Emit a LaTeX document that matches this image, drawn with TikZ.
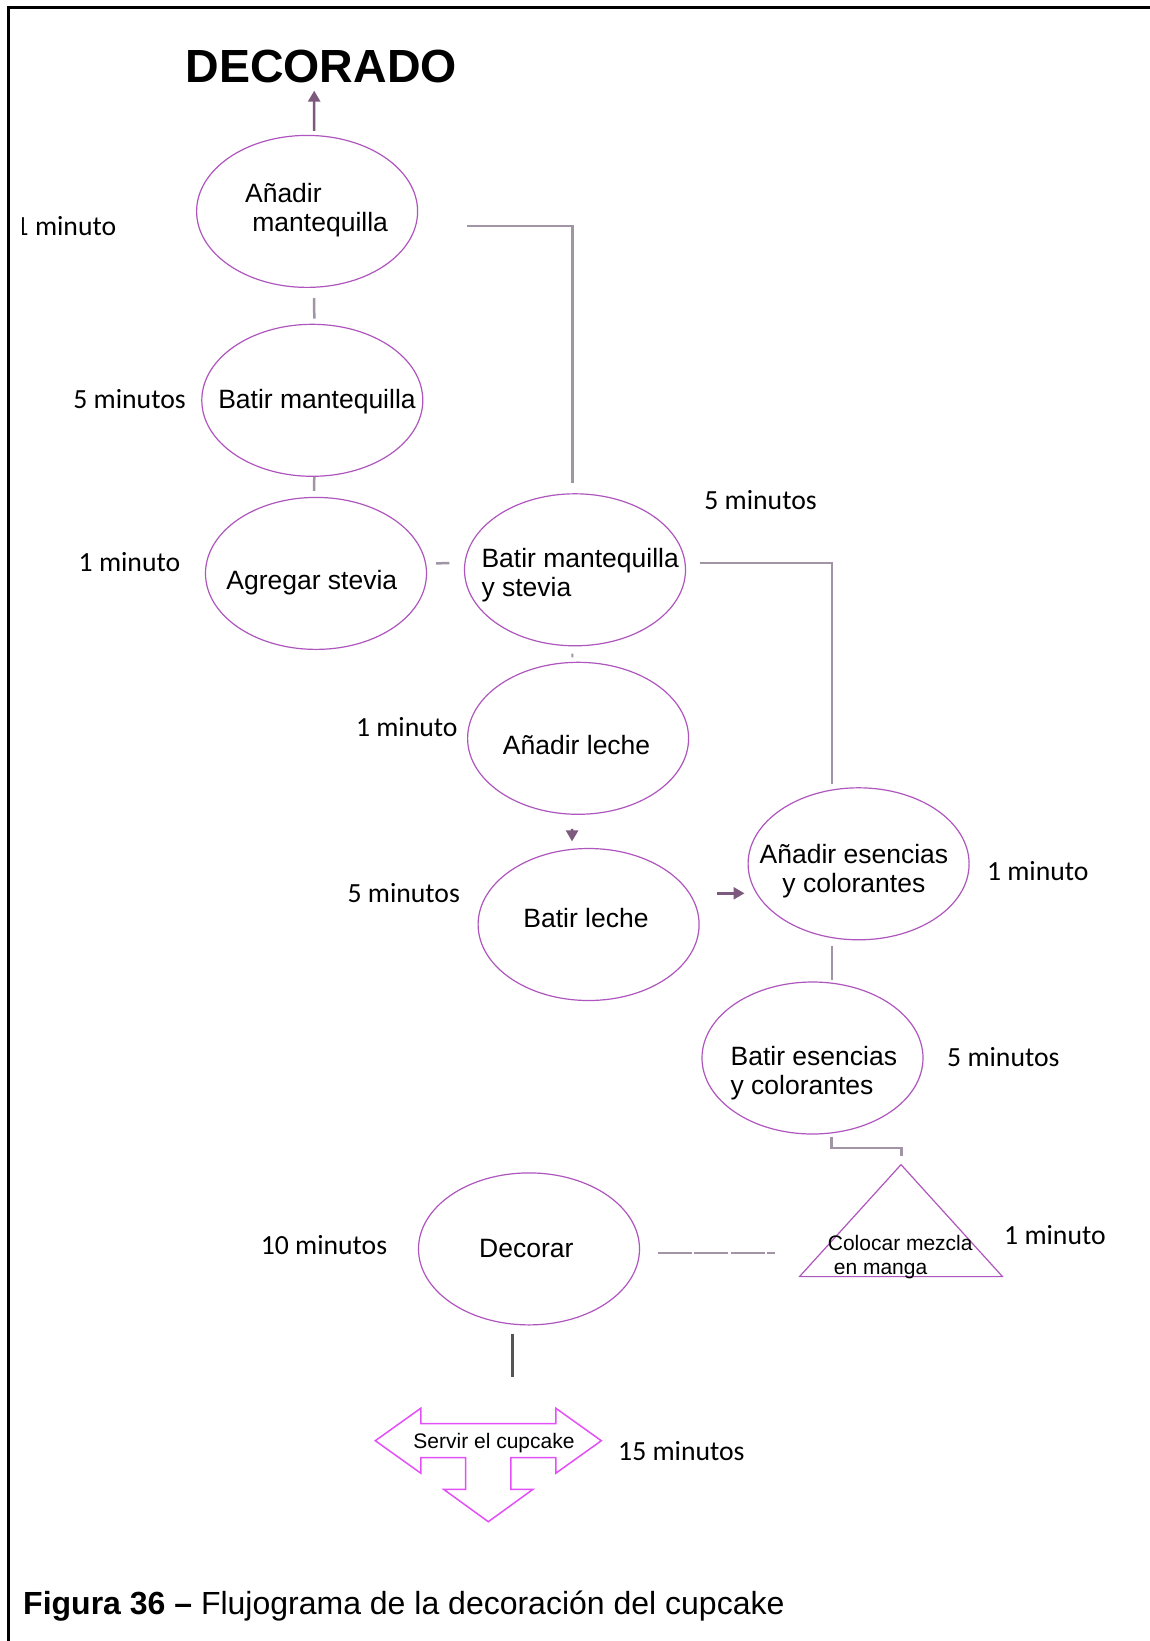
\documentclass[tikz,border=0pt]{standalone}
\usepackage{fontspec}
\setmainfont{Liberation Sans}
\newfontfamily\lblfont{Carlito}
\usetikzlibrary{shapes.geometric,arrows.meta,calc}

\definecolor{elipse}{RGB}{175,85,190}
\definecolor{conector}{RGB}{160,148,165}
\definecolor{flechac}{RGB}{125,90,125}
\definecolor{servirc}{RGB}{228,80,248}
\definecolor{barra}{RGB}{85,85,85}

\begin{document}
\begin{tikzpicture}[x=1pt,y=-1pt,
  paso/.style={ellipse,draw=elipse,line width=1.2pt,minimum width=221pt,minimum height=152pt,inner sep=0pt},
  txt/.style={inner sep=0pt,font=\fontsize{26.5}{28.5}\selectfont,align=left},
  txtchico/.style={inner sep=0pt,font=\fontsize{21}{24}\selectfont,align=left},
  tiempo/.style={inner sep=0pt,anchor=west,font=\lblfont\fontsize{27.7}{30}\selectfont},
  conn/.style={draw=conector,line width=2.5pt},
  flecha/.style={draw=flechac,line width=2.5pt,-{Triangle[width=12pt,length=11pt]}},
]
\useasboundingbox (0,0) rectangle (1150,1641);
\fill[white] (0,0) rectangle (1150,1641);

% page frame (left and top rules)
\draw[line width=2.5pt] (8.5,1641) -- (8.5,7.7) -- (1150,7.7);

% title
\node[inner sep=0pt,font=\bfseries\fontsize{46.5}{50}\selectfont] (titulo) at (321.2,66) {DECORADO};

% process steps
\node[paso] (e1) at (307.1,211.4) {};
\node[paso] (e2) at (312.3,400.3) {};
\node[paso] (e3) at (316,573.4) {};
\node[paso] (e4) at (575,569.8) {};
\node[paso] (e5) at (578.1,738.3) {};
\node[paso] (e6) at (588.6,924.5) {};
\node[paso] (e7) at (858.6,863.8) {};
\node[paso] (e8) at (812.5,1058) {};
\node[paso] (e10) at (529,1248.9) {};

% step texts
\node[txt,anchor=west] (t1) at (244.9,210) {Añadir\\\hspace*{7.3pt}mantequilla};
\node[txt] (t2) at (317,402) {Batir mantequilla};
\node[txt] (t3) at (311.8,582.7) {Agregar stevia};
\node[txt,anchor=west] (t4) at (481.3,574.9) {Batir mantequilla\\y stevia};
\node[txt] (t5) at (576.6,745) {Añadir leche};
\node[txt] (t6) at (586,917.7) {Batir leche};
\node[txt,align=center] (t7) at (853.9,871) {Añadir esencias\\y colorantes};
\node[txt,anchor=west] (t8) at (730.4,1073) {Batir esencias\\y colorantes};
\node[txt] (t10) at (526.3,1248.4) {Decorar};

% piping step (triangle)
\coordinate (tri-a) at (901,1164.6);
\coordinate (tri-l) at (799.5,1276.6);
\coordinate (tri-r) at (1002.5,1276.6);
\draw[draw=elipse,line width=1.2pt] (tri-a) -- (tri-r) -- (tri-l) -- cycle;
\node[txtchico,anchor=west] (t9) at (827.7,1257.5) {Colocar mezcla\\\hspace*{6pt}en manga};

% serving step (three-way arrow)
\coordinate (srv) at (488.3,1440.7);
\begin{scope}[shift={(srv)}]
\draw[draw=servirc,line width=1.5pt,line join=miter]
  (-113,0) -- (-67.5,-32.5) -- (-67.5,-17) -- (67.5,-17) -- (67.5,-32.5) -- (113,0)
  -- (67.5,32.5) -- (67.5,17) -- (22.6,17) -- (22.6,48.6) -- (44.7,48.6) -- (0,81)
  -- (-44.7,48.6) -- (-22.6,48.6) -- (-22.6,17) -- (-67.5,17) -- (-67.5,32.5) -- cycle;
\end{scope}
\node[txtchico] (t11) at (494,1442.7) {Servir el cupcake};

% times
\begin{scope}
\clip (22,150) rectangle (200,300);
\node[tiempo] (m1) at (14.5,226) {1 minuto};
\end{scope}
\node[tiempo] (m2) at (73.2,398.7) {5 minutos};
\node[tiempo] (m3) at (78.5,562) {1 minuto};
\node[tiempo] (m4) at (704.2,500.2) {5 minutos};
\node[tiempo] (m5) at (355.8,727.3) {1 minuto};
\node[tiempo] (m6) at (347.4,892.6) {5 minutos};
\node[tiempo] (m7) at (986.8,870.6) {1 minuto};
\node[tiempo] (m8) at (947,1056.9) {5 minutos};
\node[tiempo] (m9) at (1004,1235.5) {1 minuto};
\node[tiempo] (m10) at (260.6,1245.2) {10 minutos};
\node[tiempo] (m11) at (618,1451) {15 minutos};

% caption
\node[anchor=west,inner sep=0pt,font=\fontsize{32}{34}\selectfont] (pie) at (23,1606)
  {\textbf{Figura 36 –} Flujograma de la decoración del cupcake};

% connectors
\draw[flecha] ([xshift=7pt,yshift=4pt]e1.north) -- ([xshift=-7pt,yshift=-8pt]titulo.south);
\draw[conn] ([xshift=7pt,yshift=-10pt]e1.south) -- ([xshift=2pt,yshift=5pt]e2.north);
\draw[conn] ([xshift=2pt]e2.south) -- ([xshift=-2pt,yshift=6pt]e3.north);
\draw[conn] ([xshift=9pt,yshift=10pt]e3.east) -- ([xshift=-14.5pt,yshift=6.8pt]e4.west);
\draw[conn] ([xshift=49pt,yshift=-14.6pt]e1.east) -| ([xshift=-2.6pt,yshift=10.4pt]e4.north);
\draw[conn] ([xshift=13.5pt,yshift=6.8pt]e4.east) -| ([xshift=-26.7pt,yshift=3pt]e7.north);
\draw[conn,line width=2pt] ([xshift=-2.6pt,yshift=-7.2pt]e4.south) -- ([xshift=-5.7pt,yshift=4.3pt]e5.north);
\draw[flecha] ([xshift=-6pt,yshift=-14pt]e5.south) -- ([xshift=-16.6pt,yshift=6.5pt]e6.north);
\draw[flecha] ([xshift=17.6pt,yshift=31.2pt]e6.east) -- ([xshift=-3pt,yshift=-29.5pt]e7.west);
\draw[conn] ([xshift=-26.8pt,yshift=-5.2pt]e7.south) -- ([xshift=19.3pt,yshift=1.5pt]e8.north);
\draw[conn] ([xshift=19pt,yshift=-2pt]e8.south) -- ++(0,11.5) -| ([xshift=0.5pt,yshift=8.5pt]tri-a);
\draw[conn,dash pattern=on 34pt off 2.5pt] ([xshift=17.5pt,yshift=-4.1pt]e10.east) -- ([xshift=-24.5pt,yshift=23.6pt]tri-l);
\draw[draw=barra,line width=3pt] ([xshift=-16.3pt,yshift=-8.1pt]e10.south) -- ([xshift=24.4pt,yshift=63.7pt]srv);
\end{tikzpicture}
\end{document}
